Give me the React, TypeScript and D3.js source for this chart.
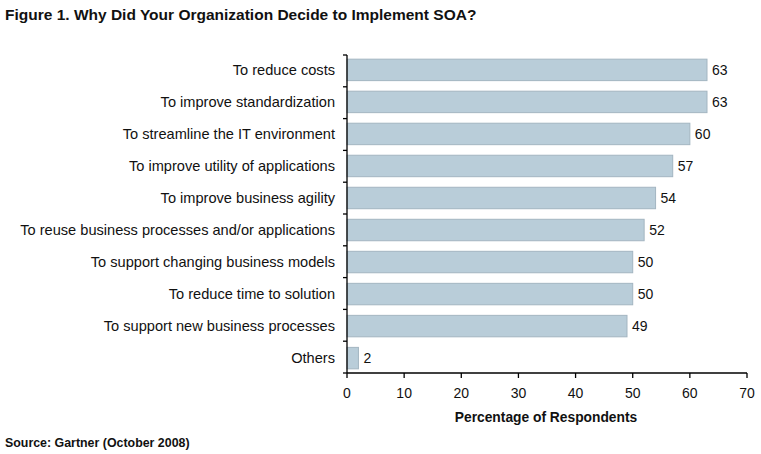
import React from "react";
import * as d3 from "d3";

const categories = [
  "To reduce costs",
  "To improve standardization",
  "To streamline the IT environment",
  "To improve utility of applications",
  "To improve business agility",
  "To reuse business processes and/or applications",
  "To support changing business models",
  "To reduce time to solution",
  "To support new business processes",
  "Others",
];
const values = [63, 63, 60, 57, 54, 52, 50, 50, 49, 2];
const xTicks = [0, 10, 20, 30, 40, 50, 60, 70];
const title = "Figure 1. Why Did Your Organization Decide to Implement SOA?";
const xTitle = "Percentage of Respondents";
const source = "Source: Gartner (October 2008)";

export default function App() {
  const W = 761, H = 454;
  const left = 347, right = 747, top = 55, bottom = 373;
  const x = d3.scaleLinear().domain([0, 70]).range([left, right]);
  const y = d3.scaleBand().domain(categories).range([top, bottom]).paddingInner(0.33).paddingOuter(0.13);
  const font = "'Liberation Sans', Arial, sans-serif";
  const bandStep = (bottom - top) / categories.length;
  return (
    <svg width={W} height={H} style={{ position: "absolute", left: 0, top: 0, background: "#fff" }} fontFamily={font}>
      <rect width={W} height={H} fill="#fff" />
      <text x={5} y={20} fontSize={15.5} fontWeight="bold" fill="#111">{title}</text>
      {categories.map((c, i) => {
        const by = y(c)!;
        const bw = x(values[i]) - x(0);
        return (
          <g key={c}>
            <rect x={x(0)} y={by} width={bw} height={y.bandwidth()} fill="#b9cdd9" stroke="#a3b5c1" strokeWidth={1} />
            <text x={x(values[i]) + 5} y={by + y.bandwidth() / 2} dy="0.35em" fontSize={14} fill="#111">{values[i]}</text>
            <text x={335} y={by + y.bandwidth() / 2} dy="0.35em" fontSize={14.6} textAnchor="end" fill="#111">{c}</text>
          </g>
        );
      })}
      <line x1={left} x2={left} y1={top} y2={bottom} stroke="#000" strokeWidth={1.3} />
      {d3.range(categories.length + 1).map((i) => (
        <line key={i} x1={left - 4} x2={left} y1={top + i * bandStep} y2={top + i * bandStep} stroke="#000" strokeWidth={1.3} />
      ))}
      <line x1={left} x2={right} y1={bottom} y2={bottom} stroke="#000" strokeWidth={1.3} />
      {xTicks.map((t) => (
        <g key={t}>
          <line x1={x(t)} x2={x(t)} y1={bottom} y2={bottom + 5} stroke="#000" strokeWidth={1.3} />
          <text x={x(t)} y={398} fontSize={14} textAnchor="middle" fill="#111">{t}</text>
        </g>
      ))}
      <text x={546} y={422} fontSize={13.8} fontWeight="bold" textAnchor="middle" fill="#111">{xTitle}</text>
      <text x={5} y={447} fontSize={12.4} fontWeight="bold" fill="#111">{source}</text>
    </svg>
  );
}
